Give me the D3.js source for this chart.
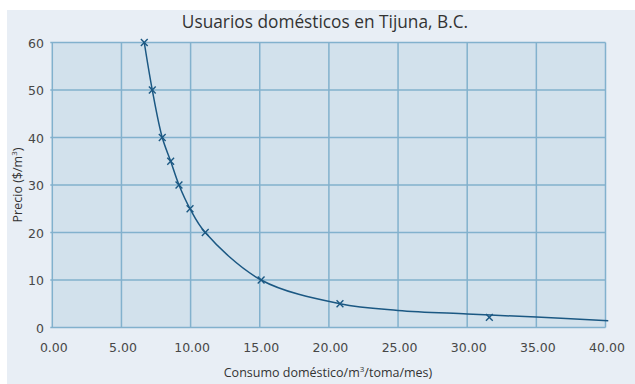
<!DOCTYPE html>
<html><head><meta charset="utf-8">
<script src="https://cdn.jsdelivr.net/npm/d3@7/dist/d3.min.js"></script>
<style>body{margin:0;background:#fff}svg{display:block}</style>
</head><body><svg id="c" width="635" height="384"></svg>
<script>
const title = "Usuarios domésticos en Tijuna, B.C.";
const xTicks = [0,5,10,15,20,25,30,35,40];
const yTicks = [0,10,20,30,40,50,60];
const consumo = [6.65,7.23,7.95,8.56,9.16,9.96,11.06,15.1,20.8,31.6];
const precio  = [60,50,40,35,30,25,20,10,5,2.15];
const curvaX = [6.65,7.23,7.95,8.56,9.16,9.96,11.06,15.1,20.8,25,30,35,40.2];
const curvaY = [60,50,40,35,30,25,20,10,5,3.6,2.85,2.2,1.4];

const svg = d3.select("#c");
svg.append("rect").attr("x",7).attr("y",10).attr("width",628).attr("height",374).attr("fill","#e8eef5");
const m = {l:52.3, r:605.5, t:42.5, b:327.5};
const x = d3.scaleLinear().domain([0,40]).range([m.l,m.r]);
const y = d3.scaleLinear().domain([0,60]).range([m.b,m.t]);
const grid = "#82b1cd";
svg.append("rect").attr("x",m.l).attr("y",m.t).attr("width",m.r-m.l).attr("height",m.b-m.t).attr("fill","#d2e1ec");
const g = svg.append("g");
g.selectAll(".vx").data(xTicks).join("line").attr("x1",d=>x(d)).attr("x2",d=>x(d)).attr("y1",m.t).attr("y2",m.b).attr("stroke",grid).attr("stroke-width",1.5);
g.selectAll(".hy").data(yTicks).join("line").attr("y1",d=>y(d)).attr("y2",d=>y(d)).attr("x1",m.l-2).attr("x2",m.r).attr("stroke",grid).attr("stroke-width",1.5);

const font = "'Open Sans', sans-serif";
const tickFont = "'DejaVu Sans', sans-serif";
g.selectAll(".yl").data(yTicks).join("text").attr("x",44).attr("y",d=>y(d)+5).attr("text-anchor","end")
 .attr("font-family",tickFont).attr("font-size",12.5).attr("fill","#474747").text(d=>d);
g.selectAll(".xl").data(xTicks).join("text").attr("x",d=>x(d)+1.5).attr("y",352).attr("text-anchor","middle")
 .attr("font-family",tickFont).attr("font-size",12.5).attr("fill","#474747").text(d=>d.toFixed(2));

const pts = curvaX.map((v,i)=>[v,curvaY[i]]);
svg.append("path").attr("d",d3.line().x(d=>x(d[0])).y(d=>y(d[1])).curve(d3.curveCatmullRom.alpha(0.5))(pts))
 .attr("fill","none").attr("stroke","#1b5883").attr("stroke-width",1.5);
const s = 3.4;
const mk = svg.append("g").attr("stroke","#1b5883").attr("stroke-width",1.4);
consumo.forEach((v,i)=>{
  const cx=x(v), cy=y(precio[i]);
  mk.append("line").attr("x1",cx-s).attr("y1",cy-s).attr("x2",cx+s).attr("y2",cy+s);
  mk.append("line").attr("x1",cx-s).attr("y1",cy+s).attr("x2",cx+s).attr("y2",cy-s);
});

svg.append("text").attr("x",325).attr("y",28).attr("text-anchor","middle").attr("font-family",font)
 .attr("font-size",17.3).attr("fill","#333").text(title);
const xt = svg.append("text").attr("x",328).attr("y",377).attr("text-anchor","middle").attr("font-family",font)
 .attr("font-size",12.5).attr("fill","#333");
xt.append("tspan").text("Consumo doméstico/m");
xt.append("tspan").attr("font-size",8).attr("dy",-5).text("3");
xt.append("tspan").attr("dy",5).text("/toma/mes)");
const yt = svg.append("text").attr("transform","translate(22,185) rotate(-90)").attr("text-anchor","middle")
 .attr("font-family",font).attr("font-size",12.5).attr("fill","#333");
yt.append("tspan").text("Precio ($/m");
yt.append("tspan").attr("font-size",8).attr("dy",-5).text("3");
yt.append("tspan").attr("dy",5).text(")");
</script></body></html>
